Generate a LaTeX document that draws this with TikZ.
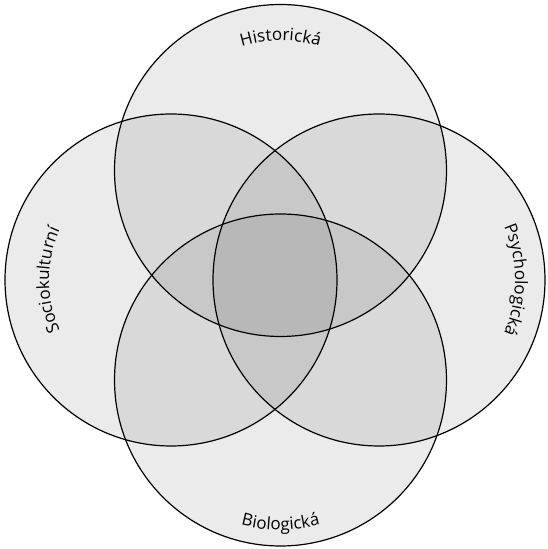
\documentclass[tikz,border=0pt]{standalone}
\usepackage{fontspec}
\setmainfont{Open Sans}
\usetikzlibrary{decorations.text}
\begin{document}
\begin{tikzpicture}[x=1pt,y=1pt,
    set/.style={circle,draw,line width=1.2pt,fill=black,fill opacity=0.08,minimum size=332pt,inner sep=0pt},
    arclabel/.style={decorate,decoration={text along path,text align=center,
        text={|\fontsize{17}{20}\selectfont|#1}}}]
\useasboundingbox (0,0) rectangle (547,549);
\node [set] (top) at (280.5,378.5) {};
\node [set] (left) at (171,269) {};
\node [set] (right) at (379,269) {};
\node [set] (bottom) at (280.5,169) {};

\path [arclabel=Historická] ([shift={(135:130)}]top.center)
    arc [start angle=135,end angle=45,radius=130];
\path [arclabel=Sociokulturní] ([shift={(220:122)}]left.center)
    arc [start angle=220,end angle=140,radius=122];
\path [arclabel=Psychologická] ([shift={(40:136)}]right.center)
    arc [start angle=40,end angle=-40,radius=136];
\path [arclabel=Biologická] ([shift={(235:150)}]bottom.center)
    arc [start angle=235,end angle=305,radius=150];
\end{tikzpicture}
\end{document}
